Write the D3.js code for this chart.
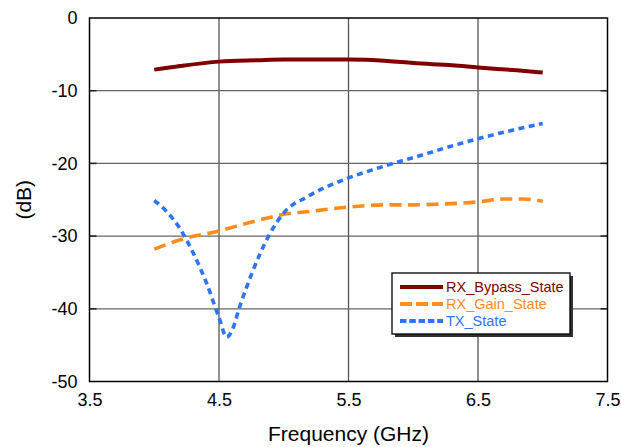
<!DOCTYPE html>
<html>
<head>
<meta charset="utf-8">
<script src="https://cdn.jsdelivr.net/npm/d3@7"></script>
<style>
  body { margin: 0; background: #fff; }
  svg { font-family: "Liberation Sans", Arial, sans-serif; }
</style>
</head>
<body>
<div id="plot"></div>
<script>
// values
const bypassFreq = [4.0, 4.2, 4.5, 4.8, 5.0, 5.5, 5.8, 6.0, 6.3, 6.5, 6.8, 7.0];
const bypassDb = [-7.1, -6.6, -6.0, -5.8, -5.7, -5.7, -5.9, -6.2, -6.5, -6.8, -7.2, -7.5];

const gainFreq = [4.0, 4.2, 4.5, 4.7, 4.9, 5.0, 5.2, 5.5, 5.8, 6.0, 6.2, 6.5, 6.7, 6.85, 7.0];
const gainDb = [-31.8, -30.5, -29.3, -28.3, -27.4, -27.0, -26.6, -26.0, -25.7, -25.7, -25.6, -25.3, -24.9, -24.9, -25.2];

const txFreq = [4.0, 4.1, 4.2, 4.3, 4.4, 4.5, 4.56, 4.6, 4.66, 4.75, 4.88, 5.0, 5.18, 5.5, 5.7, 6.0, 6.5, 7.0];
const txDb = [-25.1, -26.7, -29.0, -32.3, -36.3, -41.2, -43.9, -43.0, -39.7, -35.3, -30.1, -26.8, -24.6, -22.0, -20.8, -19.2, -16.6, -14.5];

const xTicks = [3.5, 4.5, 5.5, 6.5, 7.5];
const yTicks = [0, -10, -20, -30, -40, -50];

const series = [
  { name: 'RX_Bypass_State', freq: bypassFreq, db: bypassDb, color: '#800000', dash: null },
  { name: 'RX_Gain_State', freq: gainFreq, db: gainDb, color: '#ff8c1f', dash: '12,6.5' },
  { name: 'TX_State', freq: txFreq, db: txDb, color: '#2f74f6', dash: '6,4.5' },
];

const width = 621;
const height = 447;
const pLeft = 89.5, pRight = 607.5, pTop = 18, pBottom = 381.5;

const svg = d3.select("#plot").append("svg")
  .attr("width", width)
  .attr("height", height);

const x = d3.scaleLinear().domain([3.5, 7.5]).range([pLeft, pRight]);
const y = d3.scaleLinear().domain([-50, 0]).range([pBottom, pTop]);

// grid
svg.append("g")
  .selectAll("line")
  .data(xTicks.slice(1, -1))
  .join("line")
  .attr("x1", d => x(d)).attr("x2", d => x(d))
  .attr("y1", pTop).attr("y2", pBottom)
  .attr("stroke", "#555").attr("stroke-width", 1.3);

svg.append("g")
  .selectAll("line")
  .data(yTicks.slice(1, -1))
  .join("line")
  .attr("x1", pLeft).attr("x2", pRight)
  .attr("y1", d => y(d)).attr("y2", d => y(d))
  .attr("stroke", "#666").attr("stroke-width", 1.3);

// inward ticks on left and right
const tickLen = 7;
svg.append("g")
  .selectAll("line")
  .data(yTicks.slice(1, -1))
  .join("line")
  .attr("x1", pLeft).attr("x2", pLeft + tickLen)
  .attr("y1", d => y(d)).attr("y2", d => y(d))
  .attr("stroke", "#222").attr("stroke-width", 1.5);
svg.append("g")
  .selectAll("line")
  .data(yTicks.slice(1, -1))
  .join("line")
  .attr("x1", pRight - tickLen).attr("x2", pRight)
  .attr("y1", d => y(d)).attr("y2", d => y(d))
  .attr("stroke", "#222").attr("stroke-width", 1.5);

// frame
svg.append("rect")
  .attr("x", pLeft).attr("y", pTop)
  .attr("width", pRight - pLeft).attr("height", pBottom - pTop)
  .attr("fill", "none").attr("stroke", "#000").attr("stroke-width", 1.5);

// axes labels
const yAxis = d3.axisLeft(y).tickValues(yTicks).tickSize(0).tickPadding(12).tickFormat(d => String(d));
svg.append("g")
  .attr("transform", `translate(${pLeft},0)`)
  .call(yAxis)
  .call(g => g.select(".domain").remove())
  .selectAll("text")
  .attr("font-size", 18).attr("fill", "#000")
  .attr("font-family", "Liberation Sans, Arial, sans-serif");

const xAxis = d3.axisBottom(x).tickValues(xTicks).tickSize(0).tickPadding(12).tickFormat(d => d.toFixed(1));
svg.append("g")
  .attr("transform", `translate(0,${pBottom})`)
  .call(xAxis)
  .call(g => g.select(".domain").remove())
  .selectAll("text")
  .attr("font-size", 18).attr("fill", "#000")
  .attr("font-family", "Liberation Sans, Arial, sans-serif");

svg.append("text")
  .attr("x", (pLeft + pRight) / 2)
  .attr("y", 441)
  .attr("text-anchor", "middle")
  .attr("font-size", 21)
  .text("Frequency (GHz)");

svg.append("text")
  .attr("transform", `translate(31,${(pTop + pBottom) / 2}) rotate(-90)`)
  .attr("text-anchor", "middle")
  .attr("font-size", 21)
  .text("(dB)");

// lines
const line = d3.line().x(d => x(d[0])).y(d => y(d[1])).curve(d3.curveMonotoneX);
series.forEach(s => {
  svg.append("path")
    .datum(s.freq.map((f, i) => [f, s.db[i]]))
    .attr("d", line)
    .attr("fill", "none")
    .attr("stroke", s.color)
    .attr("stroke-width", s.dash ? 3.6 : 4)
    .attr("stroke-dasharray", s.dash);
});

// legend
const lx = 392, ly = 273, lw = 178, lh = 61;
svg.append("rect")
  .attr("x", lx + 3).attr("y", ly + 3).attr("width", lw).attr("height", lh)
  .attr("fill", "#333");
svg.append("rect")
  .attr("x", lx).attr("y", ly).attr("width", lw).attr("height", lh)
  .attr("fill", "#fff").attr("stroke", "#000").attr("stroke-width", 1.3);

const rows = svg.append("g").selectAll("g")
  .data(series)
  .join("g")
  .attr("transform", (d, i) => `translate(${lx},${ly + 14 + i * 17})`);
rows.append("line")
  .attr("x1", 8).attr("x2", 51)
  .attr("stroke", d => d.color)
  .attr("stroke-width", 4)
  .attr("stroke-dasharray", d => d.dash === null ? null : (d.name === 'TX_State' ? '6.5,2.8' : '12,4'));
rows.append("text")
  .attr("x", 54)
  .attr("dy", "0.36em")
  .attr("font-size", 14.5)
  .attr("fill", d => d.color)
  .text(d => d.name);
</script>
</body>
</html>
